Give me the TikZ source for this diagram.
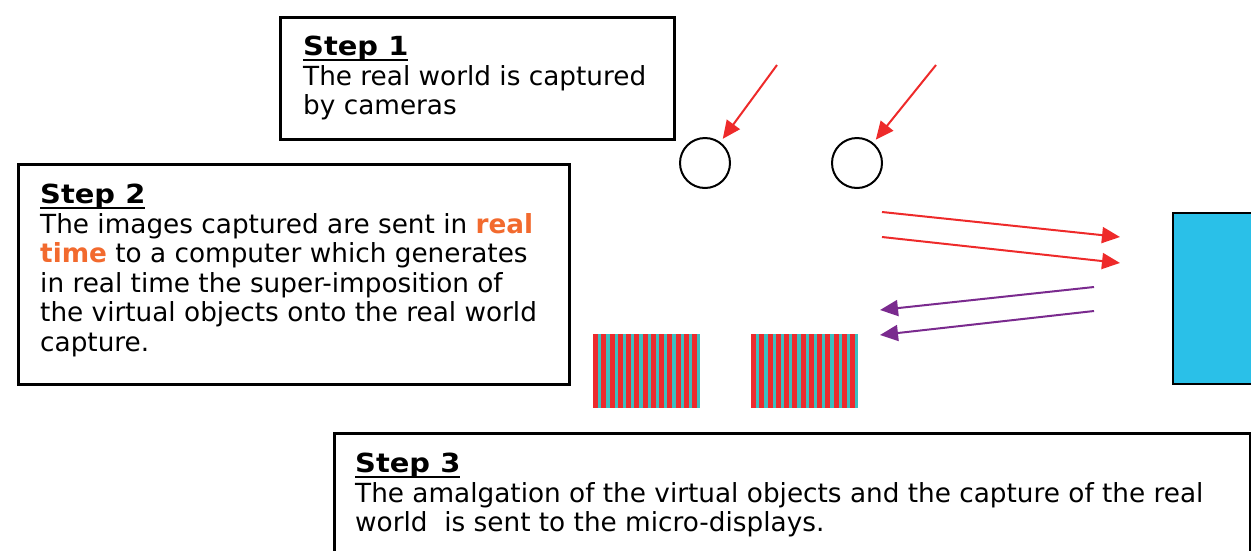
\documentclass[tikz,border=0pt]{standalone}
\usepackage{fontspec}
\setmainfont{DejaVu Sans}
\usetikzlibrary{arrows.meta}
\definecolor{arrowred}{HTML}{EE2A2A}
\definecolor{arrowpurple}{HTML}{7A2A8E}
\definecolor{realorange}{HTML}{F26A2E}
\definecolor{screenblue}{HTML}{2AC0E8}
\definecolor{stripecyan}{HTML}{3CBFC0}
\definecolor{stripered}{HTML}{EC2B2E}
\newcommand{\stephead}[1]{\setbox0\hbox{\scalebox{1.1}[1]{\textbf{#1}}}\rlap{\rule[-5pt]{\wd0}{2.2pt}}\box0}

\begin{document}
\begin{tikzpicture}[x=1pt, y=-1pt,
	stepbox/.style={draw, line width=2.5pt, anchor=north west, inner sep=0pt},
	steptext/.style={anchor=north west, align=left, inner sep=0pt, font=\fontsize{26.3}{29.5}\selectfont},
	camera/.style={circle, draw, line width=2pt, minimum size=50pt, inner sep=0pt},
	display/.style={anchor=north west, minimum width=107pt, minimum height=74pt, inner sep=0pt, fill=stripecyan,
		path picture={\foreach \i in {0,...,12}{\fill[stripered] ([xshift=\i*8.25pt]path picture bounding box.south west) rectangle ++(5pt,74pt);}}},
	redarrow/.style={-{Triangle[length=18pt,width=16pt]}, draw=arrowred, fill=arrowred, line width=2pt},
	purplearrow/.style={-{Triangle[length=18pt,width=16pt]}, draw=arrowpurple, fill=arrowpurple, line width=2pt}]
	\useasboundingbox (0,0) rectangle (1251,550);

	% Boxes
	\node[stepbox, minimum width=394pt, minimum height=122pt] (box1) at (279,16) {};
	\node[stepbox, minimum width=551pt, minimum height=220pt] (box2) at (17,163) {};
	\node[stepbox, minimum width=916pt, minimum height=140pt] (box3) at (333,432) {};

	% Texts
	\node[steptext] (text1) at (303,36) {\stephead{Step 1}\\The real world is captured\\by cameras};
	\node[steptext] (text2) at (40,184) {\stephead{Step 2}\\The images captured are sent in \textcolor{realorange}{\textbf{real}}\\
		\textcolor{realorange}{\textbf{time}} to a computer which generates\\in real time the super-imposition of\\
		the virtual objects onto the real world\\capture.};
	\node[steptext] (text3) at (355,453) {\stephead{Step 3}\\The amalgation of the virtual objects and the capture of the real\\world\ \ is sent to the micro-displays.};

	% Cameras, displays, screen
	\node[camera] (cam1) at (705,163) {};
	\node[camera] (cam2) at (857,163) {};
	\node[display] (disp1) at (593,334) {};
	\node[display] (disp2) at (751,334) {};
	\node[draw, line width=2pt, fill=screenblue, anchor=north west, minimum width=84pt, minimum height=171pt, inner sep=0pt] (screen) at (1172,212) {};

	% Arrows
	\coordinate (light1) at (777,65);
	\coordinate (light2) at (936,65);
	\draw[redarrow, shorten >=4pt] (light1) -- (cam1);
	\draw[redarrow, shorten >=4pt] (light2) -- (cam2);

	\coordinate (out1) at (882,212);
	\coordinate (out2) at (882,237);
	\coordinate (in1) at (1120,237);
	\coordinate (in2) at (1120,263);
	\draw[redarrow] (out1) -- (in1);
	\draw[redarrow] (out2) -- (in2);

	\coordinate (back1) at (1094,287);
	\coordinate (back2) at (1094,311);
	\coordinate (end1) at (880,310);
	\coordinate (end2) at (880,335);
	\draw[purplearrow] (back1) -- (end1);
	\draw[purplearrow] (back2) -- (end2);
\end{tikzpicture}
\end{document}
